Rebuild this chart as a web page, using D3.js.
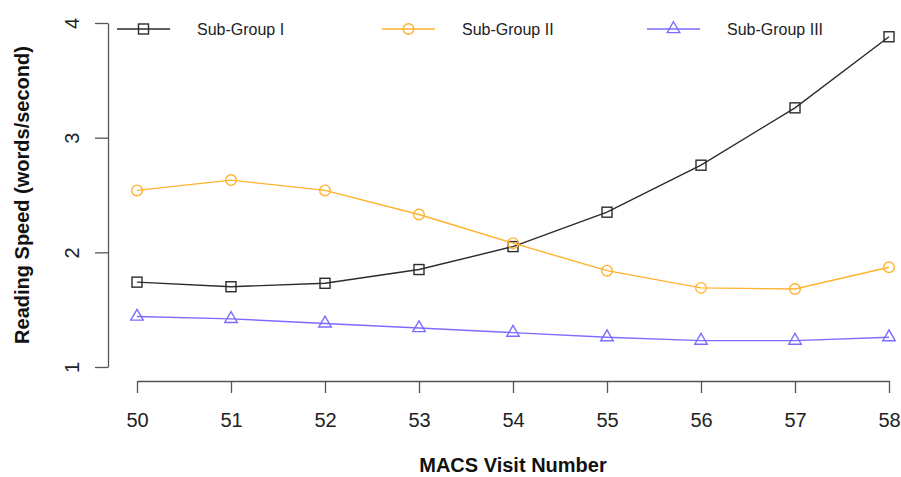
<!DOCTYPE html>
<html>
<head>
<meta charset="utf-8">
<script src="https://cdn.jsdelivr.net/npm/d3@7"></script>
<style>
  body { margin: 0; background: #fff; }
  svg { font-family: "Liberation Sans", Arial, Helvetica, sans-serif; }
</style>
</head>
<body>
<div id="chart"></div>
<script>
// data
let visits = [50, 51, 52, 53, 54, 55, 56, 57, 58];
let groupI = [1.74, 1.70, 1.73, 1.85, 2.05, 2.35, 2.76, 3.26, 3.88];
let groupII = [2.54, 2.63, 2.54, 2.33, 2.08, 1.84, 1.69, 1.68, 1.87];
let groupIII = [1.44, 1.42, 1.38, 1.34, 1.30, 1.26, 1.23, 1.23, 1.26];
let yTicks = [1, 2, 3, 4];
let seriesNames = ["Sub-Group I", "Sub-Group II", "Sub-Group III"];

let width = 901;
let height = 477;

let x = d3.scaleLinear().domain([50, 58]).range([137, 889]);
let y = d3.scaleLinear().domain([1, 4]).range([367, 23]);

let svg = d3.select("#chart")
    .append("svg")
    .attr("width", width)
    .attr("height", height);

let series = [
    { name: seriesNames[0], values: groupI, color: "#2b2b2b", shape: "square" },
    { name: seriesNames[1], values: groupII, color: "#ffb22e", shape: "circle" },
    { name: seriesNames[2], values: groupIII, color: "#7d6dff", shape: "triangle" }
];

/**
 * draws one R style point symbol at the origin of g
 */
function marker(g, shape, color) {
    if (shape == "circle") {
        g.append("circle").attr("r", 5.3);
    } else if (shape == "square") {
        g.append("rect").attr("x", -5).attr("y", -5).attr("width", 10).attr("height", 10);
    } else {
        g.append("path").attr("d", d3.symbol().type(d3.symbolTriangle).size(68)());
    }
    g.selectAll("*")
        .attr("fill", "none")
        .attr("stroke", color)
        .attr("stroke-width", 1.4);
}

// y axis
let yAxis = svg.append("g")
    .attr("transform", "translate(108,0)")
    .call(d3.axisLeft(y).tickValues(yTicks).tickSize(13).tickSizeOuter(0).tickFormat(d3.format("d")));
yAxis.selectAll("text")
    .attr("x", 0)
    .attr("dy", "0.35em")
    .attr("transform", "translate(-36,0) rotate(-90)")
    .attr("text-anchor", "middle");

// x axis
let xAxis = svg.append("g")
    .attr("transform", "translate(0,381)")
    .call(d3.axisBottom(x).tickValues(visits).tickSize(12).tickSizeOuter(0).tickFormat(d3.format("d")));
xAxis.selectAll("text").attr("y", 39).attr("dy", "0.35em");

svg.selectAll(".domain, .tick line").attr("stroke", "#555").attr("stroke-width", 1.3);
svg.selectAll(".tick text").attr("fill", "#222").style("font-size", "20px").style("font-family", "Liberation Sans, Arial, sans-serif");

// axis titles
svg.append("text")
    .attr("x", (x.range()[0] + x.range()[1]) / 2)
    .attr("y", 472)
    .attr("text-anchor", "middle")
    .style("font-size", "20px")
    .style("font-weight", "bold")
    .attr("fill", "#111")
    .text("MACS Visit Number");

svg.append("text")
    .attr("transform", "translate(29," + (y.range()[0] + y.range()[1]) / 2 + ") rotate(-90)")
    .attr("text-anchor", "middle")
    .style("font-size", "20px")
    .style("font-weight", "bold")
    .attr("fill", "#111")
    .text("Reading Speed (words/second)");

// lines + points
let line = d3.line()
    .x(function (d, i) { return x(visits[i]); })
    .y(function (d) { return y(d); });

series.forEach(function (s) {
    svg.append("path")
        .datum(s.values)
        .attr("d", line)
        .attr("fill", "none")
        .attr("stroke", s.color)
        .attr("stroke-width", 1.4);
    s.values.forEach(function (v, i) {
        let g = svg.append("g").attr("transform", "translate(" + x(visits[i]) + "," + y(v) + ")");
        marker(g, s.shape, s.color);
    });
});

// legend across the top
series.forEach(function (s, i) {
    let lx = 117 + i * 265;
    let lg = svg.append("g").attr("transform", "translate(" + lx + ",29)");
    lg.append("line")
        .attr("x1", 0).attr("x2", 53)
        .attr("stroke", s.color)
        .attr("stroke-width", 1.4);
    let m = lg.append("g").attr("transform", "translate(26.5,0)");
    marker(m, s.shape, s.color);
    lg.append("text")
        .attr("x", 80)
        .attr("dy", "0.35em")
        .style("font-size", "16px")
        .attr("fill", "#222")
        .text(s.name);
});
</script>
</body>
</html>
